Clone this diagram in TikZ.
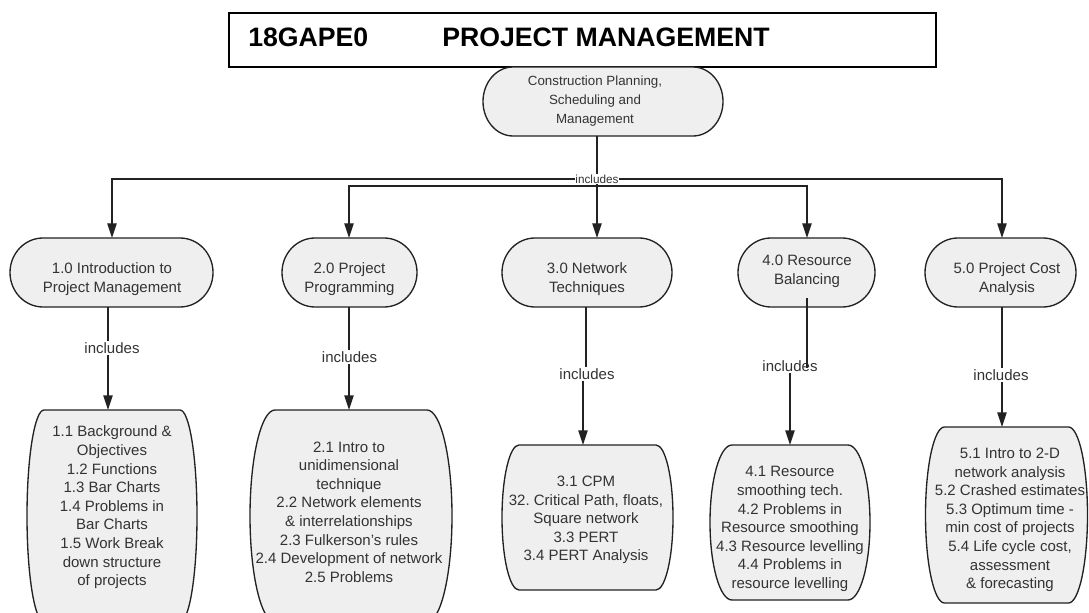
\documentclass[tikz,border=0pt]{standalone}
\usepackage{fontspec}
\setmainfont{Liberation Sans}
\usetikzlibrary{arrows.meta,calc}
\definecolor{shapefill}{HTML}{EFEFEF}
\definecolor{txtgray}{HTML}{333333}
\definecolor{linegray}{HTML}{222222}
\frenchspacing
\newcommand{\mybarrel}[6]{%
  \node[hold, minimum width=#4*0.75pt, minimum height=#5*0.75pt] (#1) at (#2,#3) {};
  \draw[shp] ($(#1.north west)+(#6,0)$) -- ($(#1.north east)+(-#6,0)$)
     arc[start angle=90,end angle=-90,x radius=#6,y radius=#5/2]
     -- ($(#1.south west)+(#6,0)$)
     arc[start angle=270,end angle=90,x radius=#6,y radius=#5/2] -- cycle;
}
\begin{document}
\begin{tikzpicture}[x=0.75pt,y=0.75pt,
  hold/.style={draw=none,inner sep=0pt,outer sep=0pt},
  shp/.style={draw=linegray,line width=1pt,fill=shapefill},
  roottxt/.style={text=txtgray,align=center,font=\fontsize{10}{14}\selectfont,inner sep=0pt},
  lvltxt/.style={text=txtgray,align=center,font=\fontsize{11.25}{14.2}\selectfont,inner sep=0pt},
  subtxt/.style={text=txtgray,align=center,font=\fontsize{11.25}{13.95}\selectfont,inner sep=0pt},
  inc/.style={text=txtgray,font=\fontsize{11.25}{13}\selectfont,fill=white,inner sep=1pt},
  conn/.style={draw=linegray,line width=1pt},
  arr/.style={conn,-{Triangle[length=11pt,width=7pt]}},
  titletxt/.style={anchor=base west,inner sep=0pt,font=\fontsize{20}{24}\selectfont\bfseries},
]
\useasboundingbox (0,0) rectangle (1089,-613);
\clip (0,0) rectangle (1089,-613);

% title
\node[draw=black,line width=1.5pt,minimum width=707*0.75pt,minimum height=54*0.75pt,inner sep=0pt,anchor=north west] (title) at (228,-12) {};
\node[titletxt] (code) at (248,-47) {18GAPE0};
\node[titletxt] (tname) at (442,-47) {PROJECT MANAGEMENT};

% shapes
\mybarrel{root}{603}{-101.5}{240}{69}{30}
\mybarrel{n10}{111.5}{-272.5}{203}{69}{33}
\mybarrel{n20}{349.5}{-272.5}{135}{69}{33}
\mybarrel{n30}{587}{-272.5}{170}{69}{33}
\mybarrel{n40}{806.5}{-272.5}{137}{69}{33}
\mybarrel{n50}{1000.5}{-272.5}{151}{69}{33}
\mybarrel{n11}{112}{-516}{170}{212}{17}
\mybarrel{n21}{351}{-516}{202}{212}{25}
\mybarrel{n31}{587.5}{-517.5}{171}{145}{17}
\mybarrel{n41}{790}{-522.5}{160}{155}{22}
\mybarrel{n51}{1006.5}{-515}{162}{176}{19}

% texts
\node[roottxt] (troot) at (595,-101) {Construction Planning,\\Scheduling and\\Management};
\node[lvltxt] (t10) at (112,-279.5) {1.0 Introduction to\\Project Management};
\node[lvltxt] (t20) at (349.5,-279.5) {2.0 Project\\Programming};
\node[lvltxt] (t30) at (587,-279.5) {3.0 Network\\Techniques};
\node[lvltxt] (t40) at (807,-271) {4.0 Resource\\Balancing};
\node[lvltxt] (t50) at (1007,-279.5) {5.0 Project Cost\\Analysis};

\node[subtxt] (t11) at (112,-507.5) {1.1 Background \&\\Objectives\\1.2 Functions\\1.3 Bar Charts\\1.4 Problems in\\Bar Charts\\1.5 Work Break\\down structure\\of projects};
\node[subtxt] (t21) at (349,-512) {2.1 Intro to\\unidimensional\\technique\\2.2 Network elements\\\& interrelationships\\2.3 Fulkerson's rules\\2.4 Development of network\\2.5 Problems};
\node[subtxt] (t31) at (586,-520) {3.1 CPM\\32. Critical Path, floats,\\Square network\\3.3 PERT\\3.4 PERT Analysis};
\node[subtxt] (t41) at (790,-529) {4.1 Resource\\smoothing tech.\\4.2 Problems in\\Resource smoothing\\4.3 Resource levelling\\4.4 Problems in\\resource levelling};
\node[subtxt] (t51) at (1010,-520) {5.1 Intro to 2-D\\network analysis\\5.2 Crashed estimates\\5.3 Optimum time -\\min cost of projects\\5.4 Life cycle cost,\\assessment\\\& forecasting};

% top connectors
\coordinate (hubA) at (597,-179);
\coordinate (hubB) at (597,-186);
\draw[arr] ($(root.south)+(-6,0)$) -- ($(n30.north)+(10,0)$);
\draw[arr] (hubA) -| ($(n10.north)+(0.5,0)$);
\draw[arr] (hubA) -| ($(n50.north)+(1.5,0)$);
\draw[arr] (hubB) -| ($(n20.north)+(-0.5,0)$);
\draw[arr] (hubB) -| ($(n40.north)+(0.5,0)$);
\node[inc,font=\fontsize{8.8}{10}\selectfont,inner sep=0.5pt] (inc0) at (hubA) {includes};

% lower connectors
\draw[arr] ($(n10.south)+(-3.5,0)$) -- ($(n11.north)+(-4,0)$);
\draw[arr] ($(n20.south)+(-0.5,0)$) -- ($(n21.north)+(-2,0)$);
\draw[arr] ($(n30.south)+(-1,0)$) -- ++(0,-67) -| ($(n31.north)+(-4.5,0)$);
\draw[arr] ($(n50.south)+(1.5,0)$) -- ($(n51.north)+(-4.5,0)$);
\node[inc] (inc1) at (112,-348) {includes};
\node[inc] (inc2) at (349.5,-357) {includes};
\node[inc] (inc3) at (587,-374) {includes};
\node[inc] (inc4) at (790,-366) {includes};
\node[inc] (inc5) at (1001,-375) {includes};
\draw[conn] ($(n40.south)+(0.5,9)$) -- ++(0,-70);
\draw[arr] (inc4.south) -- (n41.north);
\end{tikzpicture}
\end{document}
